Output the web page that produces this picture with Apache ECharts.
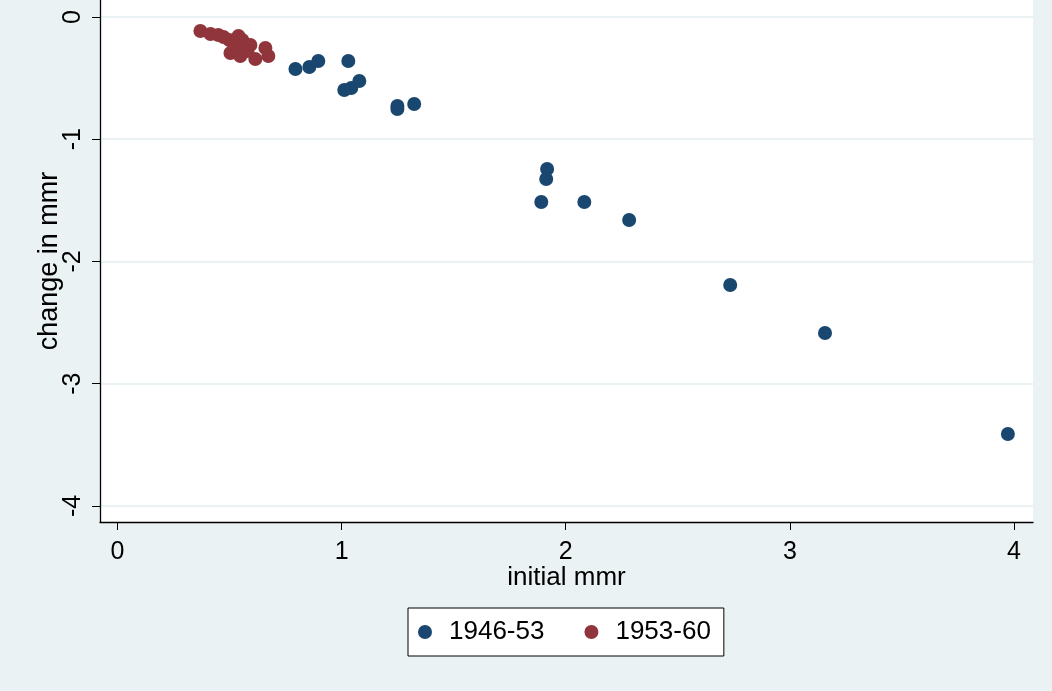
<!DOCTYPE html>
<html>
<head>
<meta charset="utf-8">
<script src="https://cdn.jsdelivr.net/npm/echarts@6/dist/echarts.min.js"></script>
<style>
html,body{margin:0;padding:0;background:#eaf2f3;}
#chart{width:1052px;height:691px;}
</style>
</head>
<body>
<div id="chart"></div>
<script>
const seriesNames = ['1946-53', '1953-60'];
const xTicks = [0, 1, 2, 3, 4];
const yTicks = [0, -1, -2, -3, -4];

const initial4653 = [0.794, 0.856, 0.896, 1.030, 1.012, 1.043, 1.079, 1.249, 1.249, 1.324, 1.917, 1.913, 1.891, 2.083, 2.283, 2.734, 3.157, 3.973];
const change4653  = [-0.425, -0.409, -0.360, -0.360, -0.597, -0.581, -0.524, -0.728, -0.753, -0.712, -1.243, -1.325, -1.513, -1.513, -1.661, -2.192, -2.585, -3.411];

const initial5360 = [0.370, 0.415, 0.450, 0.473, 0.499, 0.540, 0.557, 0.522, 0.575, 0.540, 0.504, 0.548, 0.593, 0.615, 0.660, 0.673, 0.580];
const change5360  = [-0.115, -0.139, -0.147, -0.164, -0.188, -0.155, -0.188, -0.221, -0.229, -0.262, -0.294, -0.319, -0.229, -0.344, -0.254, -0.319, -0.278];

const pairs = (xs, ys) => xs.map((x, i) => [x, ys[i]]);

const chart = echarts.init(document.getElementById('chart'));
const font = 'Liberation Sans, Arial, sans-serif';
chart.setOption({
  backgroundColor: '#eaf2f3',
  animation: false,
  grid: {
    left: 100, right: 19, top: 0, bottom: 169,
    show: true, backgroundColor: '#ffffff', borderWidth: 0
  },
  xAxis: {
    type: 'value',
    min: -0.078, max: 4.085,
    name: 'initial mmr',
    nameLocation: 'middle',
    nameGap: 43,
    nameMoveOverlap: false,
    nameTextStyle: { color: '#000', fontSize: 26, fontFamily: font, verticalAlign: 'top' },
    axisLine: { onZero: false, lineStyle: { color: '#000', width: 1.3 } },
    axisTick: { show: true, length: 8, customValues: xTicks, lineStyle: { color: '#000' } },
    axisLabel: { customValues: xTicks, color: '#000', fontSize: 25, margin: 18, fontFamily: font },
    splitLine: { show: false }
  },
  yAxis: {
    type: 'value',
    min: -4.131, max: 0.139,
    name: 'change in mmr',
    nameLocation: 'middle',
    nameGap: 50,
    nameMoveOverlap: false,
    nameRotate: 90,
    nameTextStyle: { color: '#000', fontSize: 27, fontFamily: font, verticalAlign: 'middle' },
    axisLine: { onZero: false, lineStyle: { color: '#000', width: 1.3 } },
    axisTick: { show: true, length: 8, customValues: yTicks, lineStyle: { color: '#000' } },
    axisLabel: { customValues: yTicks, color: '#000', fontSize: 25, rotate: 90, margin: 14, fontFamily: font },
    splitLine: { show: true, lineStyle: { color: '#eaf2f3', width: 2 } }
  },
  legend: {
    left: 408, top: 608,
    padding: [11, 13, 11, 10],
    backgroundColor: '#fff',
    borderColor: '#000',
    borderWidth: 1,
    itemGap: 40,
    itemWidth: 14, itemHeight: 14,
    icon: 'circle',
    textStyle: { color: '#000', fontSize: 26, fontFamily: font, padding: [0, 0, 0, 12] },
    data: seriesNames
  },
  series: [
    {
      name: seriesNames[0], type: 'scatter', symbolSize: 14,
      itemStyle: { color: '#1a476f', opacity: 1 },
      data: pairs(initial4653, change4653)
    },
    {
      name: seriesNames[1], type: 'scatter', symbolSize: 14,
      itemStyle: { color: '#90353b', opacity: 1 },
      data: pairs(initial5360, change5360)
    }
  ]
});
</script>
</body>
</html>
